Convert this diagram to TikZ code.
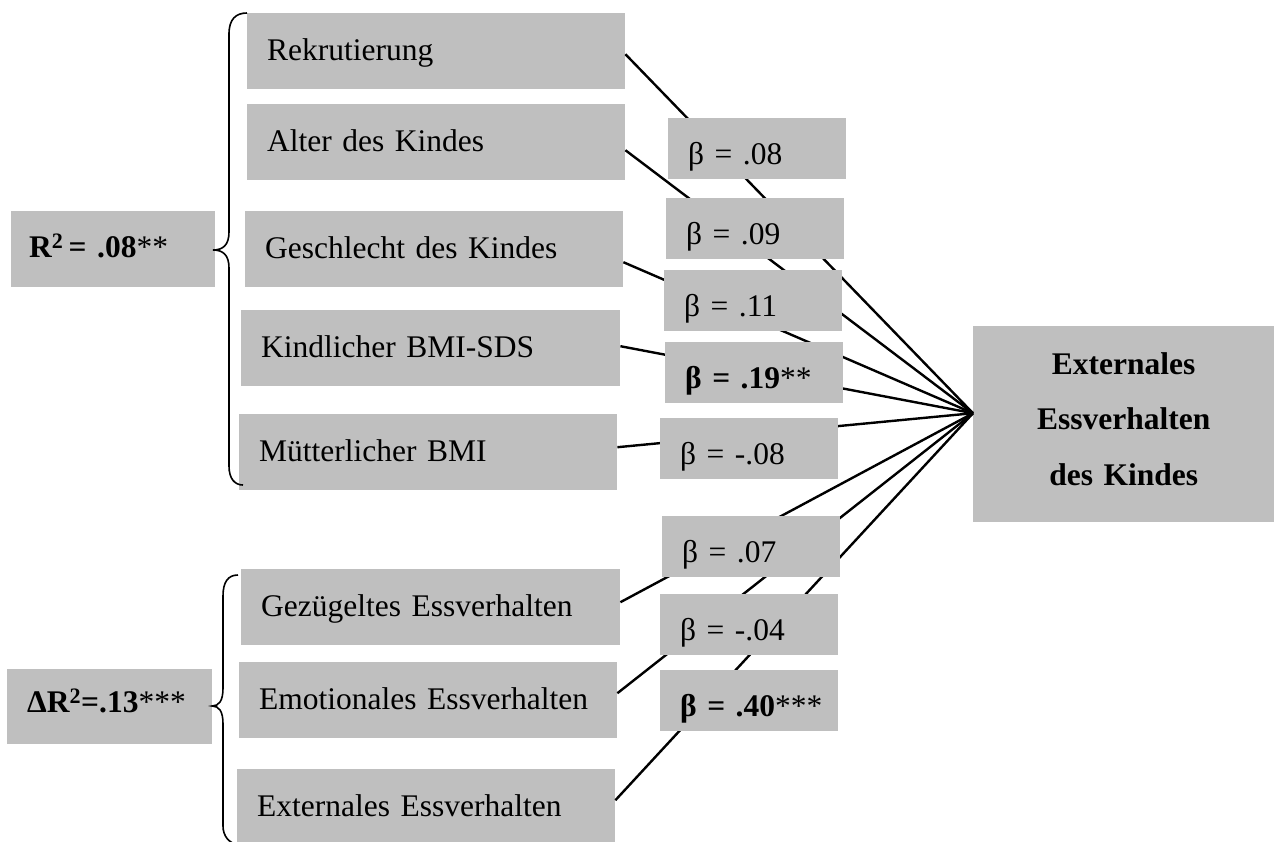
\documentclass[tikz,border=0pt]{standalone}
\usepackage{fontspec}
\setmainfont{Liberation Serif}
\definecolor{boxgray}{RGB}{191,191,191}
\begin{document}
\begin{tikzpicture}[x=1pt,y=-1pt,
  base/.style={fill=boxgray, draw=none, inner ysep=0pt, inner xsep=0pt, anchor=north west,
    font=\fontsize{31.5}{38}\selectfont},
  inset/.style={execute at begin node={\hspace*{#1}}},
  pred/.style={base, text width=#1, align=left, inset=20pt,
    minimum height=76pt, text height=22pt, text depth=4pt},
  pred/.default=378pt,
  beta/.style={base, text width=178pt, align=left, inset=20pt,
    minimum height=61pt, text height=35pt, text depth=4pt},
  rsq/.style={base, align=left, minimum height=76pt, text depth=4pt},
  outc/.style={base, text width=301pt, align=center,
    minimum height=196pt, font=\fontsize{31.5}{55.5}\selectfont\bfseries,
    text height=22pt, text depth=122pt},
  conn/.style={draw=black, line width=2.4pt},
  brace/.style={draw=black, line width=1.6pt}
]
\useasboundingbox (0,0) rectangle (1274,841);

% predictor boxes
\node[pred] (rek) at (247,13)  {Rekrutierung};
\node[pred] (alt) at (247,104) {Alter des Kindes};
\node[pred] (ges) at (245,211) {Geschlecht des Kindes};
\node[pred=379pt] (kin) at (241,310) {Kindlicher BMI-SDS};
\node[pred] (mue) at (239,414) {Mütterlicher BMI};
\node[pred=379pt] (gez) at (241,569) {Gezügeltes Essverhalten};
\node[pred] (emo) at (239,662) {Emotionales Essverhalten};
\node[pred] (ext) at (237,769) {Externales Essverhalten};

% R squared boxes
\node[rsq, inset=18pt, text width=204pt, text height=20pt] (r1) at (11,211)
  {\textbf{R\textsuperscript{2}\,= .08}**};
\node[rsq, inset=20pt, text width=205pt, text height=15pt, minimum height=75pt] (r2) at (7,669)
  {\textbf{ΔR\textsuperscript{2}=.13}***};

% outcome
\node[outc] (out) at (973,326) {Externales\\Essverhalten\\des Kindes};
\coordinate (conv) at ([yshift=11pt]out.west);

% connectors
\draw[conn] ([yshift=-3pt]rek.east) -- (conv);
\draw[conn] ([yshift=-8pt]alt.east) -- (conv);
\draw[conn] ([yshift=-13pt]ges.east) -- (conv);
\draw[conn] ([yshift=2pt]kin.east) -- (conv);
\draw[conn] ([yshift=5pt]mue.east) -- (conv);
\draw[conn] ([yshift=5pt]gez.east) -- (conv);
\draw[conn] ([yshift=7pt]emo.east) -- (conv);
\draw[conn] ([yshift=7pt]ext.east) -- (conv);

% beta boxes
\node[beta] (b1) at (668,118) {β = .08};
\node[beta] (b2) at (666,198) {β = .09};
\node[beta] (b3) at (664,270) {β = .11};
\node[beta] (b4) at (665,342) {\textbf{β = .19}**};
\node[beta] (b5) at (660,418) {β = -.08};
\node[beta] (b6) at (662,516) {β = .07};
\node[beta] (b7) at (660,594) {β = -.04};
\node[beta] (b8) at (660,670) {\textbf{β = .40}***};

% braces
\draw[brace] (247,13) .. controls (236,13) and (229,19) .. (229,34)
  -- (229,232) .. controls (229,245) and (223,250) .. (213,250)
  .. controls (223,250) and (229,255) .. (229,268)
  -- (229,466) .. controls (229,479) and (235,485) .. (243,485);
\draw[brace] (238,575) .. controls (228,575) and (223,582) .. (223,596)
  -- (223,688) .. controls (223,701) and (219,706) .. (212,706)
  .. controls (219,706) and (223,711) .. (223,724)
  -- (223,826) .. controls (223,836) and (229,843) .. (238,845);
\end{tikzpicture}
\end{document}
